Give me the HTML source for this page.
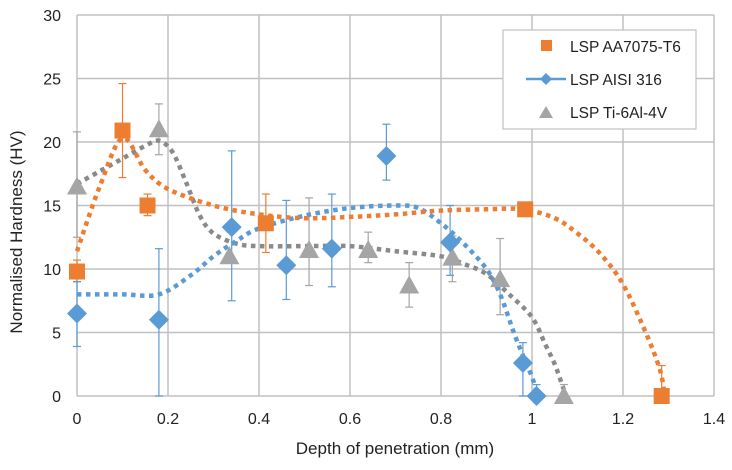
<!DOCTYPE html>
<html><head><meta charset="utf-8"><style>
body{margin:0;background:#fff}
svg text{font-family:"Liberation Sans",sans-serif;fill:#222}
</style></head><body>
<svg id="c" width="732" height="465"></svg>
<script>
const xTicks=[0,0.2,0.4,0.6,0.8,1,1.2,1.4];
const yTicks=[0,5,10,15,20,25,30];
const aaX=[0,0.1,0.155,0.415,0.985,1.285];
const aaY=[9.8,20.9,15,13.6,14.7,0];
const aaHi=[10.7,24.6,15.9,15.9,14.7,2.4];
const aaLo=[9,17.2,14.2,11.3,14.7,0];
const ssX=[0,0.18,0.34,0.46,0.56,0.68,0.82,0.98,1.01];
const ssY=[6.5,6,13.3,10.3,11.6,18.9,12.1,2.6,0];
const ssHi=[9,11.6,19.3,15.4,15.9,21.4,15,4.2,0.9];
const ssLo=[3.9,0,7.5,7.6,8.6,17,9.5,0,0];
const tiX=[0,0.18,0.335,0.51,0.64,0.73,0.825,0.93,1.07];
const tiY=[16.5,21,11,11.5,11.5,8.7,10.9,9.2,0];
const tiHi=[20.8,23,11,15.6,12.9,10.5,12.6,12.4,0.9];
const tiLo=[12.5,19,11,8.7,10.5,7,9,6.4,0];
const aaTrendX=[0,0.05,0.1,0.15,0.2,0.3,0.4,0.5,0.6,0.7,0.8,0.9,0.98,1.05,1.1,1.15,1.2,1.25,1.28,1.29];
const aaTrendY=[11.4,16.5,20.3,17.8,16.3,15,14.3,14.0,14.1,14.3,14.6,14.7,14.7,14,12.8,11.2,8.8,5,2.2,0.5];
const ssTrendX=[0,0.1,0.18,0.25,0.3,0.35,0.4,0.5,0.6,0.7,0.75,0.8,0.85,0.9,0.93,0.96,0.98,1.0,1.01];
const ssTrendY=[8,8,8,9.5,11,12.2,13.2,14.2,14.8,15,14.8,13.6,12,10,8,5,3.2,1.5,0.4];
const tiTrendX=[0,0.05,0.1,0.15,0.18,0.21,0.24,0.27,0.3,0.35,0.4,0.5,0.6,0.7,0.8,0.85,0.9,0.95,1.0,1.03,1.05,1.07];
const tiTrendY=[16.7,17.7,18.7,19.7,20.1,19.2,16.8,14.2,12.8,12.0,11.8,11.8,11.8,11.4,11.0,10.4,9.6,8,6.2,4,2.5,0.5];

const X0=77,X1=714,Y0=396,Y1=15;
const sx=v=>X0+(v/1.4)*(X1-X0);
const sy=v=>Y0-(v/30)*(Y0-Y1);
const svg=document.getElementById('c');
const NS='http://www.w3.org/2000/svg';
function mk(t,a,p){const e=document.createElementNS(NS,t);for(const k in a)e.setAttribute(k,a[k]);(p||svg).appendChild(e);return e;}

const grid=mk('g',{});


xTicks.forEach(t=>{const l=mk('line',{x1:sx(t),x2:sx(t),y1:Y1,y2:Y0,stroke:'#c0c0c0','stroke-width':1.5},grid);


const tx=mk('text',{x:sx(t),y:424,'text-anchor':'middle','font-size':16});tx.textContent=t;

});
yTicks.forEach(t=>{const l=mk('line',{x1:X0,x2:X1,y1:sy(t),y2:sy(t),stroke:'#c0c0c0','stroke-width':1.5},grid);


const tx=mk('text',{x:61,y:sy(t)+6,'text-anchor':'end','font-size':16});tx.textContent=t;

});

const xt=mk('text',{x:395,y:454,'text-anchor':'middle','font-size':17});xt.textContent='Depth of penetration (mm)';


const yt=mk('text',{x:0,y:0,'text-anchor':'middle','font-size':17,transform:'translate(22,232) rotate(-90)'});yt.textContent='Normalised Hardness (HV)';



function curve(xs,ys,color,name){
 const p=xs.map((x,i)=>[sx(x),sy(ys[i])]);
 let d='M'+p[0][0]+','+p[0][1];
 for(let i=0;i<p.length-1;i++){const a=p[i-1]||p[i],b=p[i],c=p[i+1],e=p[i+2]||c;
  d+=` C${b[0]+(c[0]-a[0])/6},${b[1]+(c[1]-a[1])/6} ${c[0]-(e[0]-b[0])/6},${c[1]-(e[1]-b[1])/6} ${c[0]},${c[1]}`;}
 const el=mk('path',{d,fill:'none',stroke:color,'stroke-width':4.5,'stroke-dasharray':'4.5 4.5'});
 
 
}
function errs(xs,hi,lo,color,name){xs.forEach((x,i)=>{if(hi[i]===lo[i])return;
 const g=mk('g',{stroke:color,'stroke-width':1.2});
 
 
 mk('line',{x1:sx(x),x2:sx(x),y1:sy(hi[i]),y2:sy(lo[i])},g);
 mk('line',{x1:sx(x)-4,x2:sx(x)+4,y1:sy(hi[i]),y2:sy(hi[i])},g);
 mk('line',{x1:sx(x)-4,x2:sx(x)+4,y1:sy(lo[i]),y2:sy(lo[i])},g);});}

errs(tiX,tiHi,tiLo,'#a5a5a5','ti-error-bar');
errs(aaX,aaHi,aaLo,'#ed7d31','aa-error-bar');
errs(ssX,ssHi,ssLo,'#5b9bd5','ss-error-bar');
curve(tiTrendX,tiTrendY,'#8a8a8a','ti-trendline');
curve(ssTrendX,ssTrendY,'#5b9bd5','ss-trendline');
curve(aaTrendX,aaTrendY,'#ed7d31','aa-trendline');

tiX.forEach((x,i)=>{const cx=sx(x),cy=sy(tiY[i]);
 const e=mk('polygon',{points:`${cx},${cy-10} ${cx-10},${cy+8} ${cx+10},${cy+8}`,fill:'#a5a5a5'});
 
 });
aaX.forEach((x,i)=>{const cx=sx(x),cy=sy(aaY[i]);
 const e=mk('rect',{x:cx-8,y:cy-8,width:16,height:16,fill:'#ed7d31'});
 
 });
ssX.forEach((x,i)=>{const cx=sx(x),cy=sy(ssY[i]);
 const e=mk('polygon',{points:`${cx},${cy-10} ${cx+10},${cy} ${cx},${cy+10} ${cx-10},${cy}`,fill:'#5b9bd5'});
 
 });

const lg=mk('g',{});


mk('rect',{x:503,y:30,width:193,height:99,fill:'#fff',stroke:'#c0c0c0','stroke-width':1.2},lg);
mk('rect',{x:541,y:40,width:11,height:11,fill:'#ed7d31'},lg);
mk('line',{x1:526,x2:566,y1:79,y2:79,stroke:'#5b9bd5','stroke-width':2.5},lg);
mk('polygon',{points:'546,73 552,79 546,85 540,79',fill:'#5b9bd5'},lg);
mk('polygon',{points:'546,106 539,118 553,118',fill:'#a5a5a5'},lg);
[['LSP AA7075-T6',52],['LSP AISI 316',85],['LSP Ti-6Al-4V',118]].forEach(([t,y])=>{
 const e=mk('text',{x:570,y,'font-size':15.5},lg);e.textContent=t;
 
 });
</script>
</body></html>
